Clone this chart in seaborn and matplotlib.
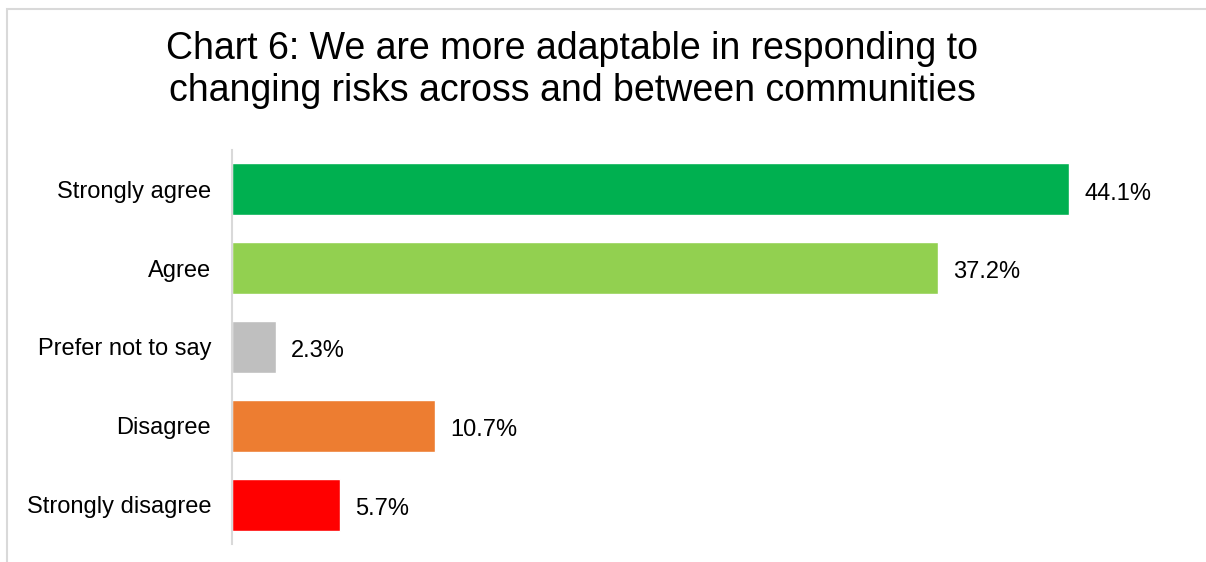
import matplotlib
matplotlib.use("Agg")
import matplotlib.pyplot as plt
import matplotlib.patches as mpatches
import seaborn as sns
import pandas as pd

categories = ["Strongly agree", "Agree", "Prefer not to say", "Disagree", "Strongly disagree"]
values = [44.1, 37.2, 2.3, 10.7, 5.7]
colors = ["#00B050", "#92D050", "#BFBFBF", "#ED7D31", "#FF0000"]
title = "Chart 6: We are more adaptable in responding to\nchanging risks across and between communities"

sns.set_style("white")
plt.rcParams["font.family"] = ["Liberation Sans", "DejaVu Sans"]

df = pd.DataFrame({"category": categories, "value": values})

fig = plt.figure(figsize=(12.06, 5.62), dpi=100)
ax = fig.add_axes([232 / 1206, 18 / 562, 949 / 1206, 394 / 562])

sns.barplot(data=df, x="value", y="category", hue="category", palette=colors,
            order=categories, hue_order=categories, orient="h", width=0.66,
            legend=False, saturation=1, ax=ax)

ax.set_xlim(0, 50)
ax.set_ylim(4.5, -0.5)
ax.set_xlabel("")
ax.set_ylabel("")
ax.set_xticks([])
ax.tick_params(axis="y", length=0, pad=15, labelsize=17, labelcolor="#000000")
for side in ("top", "right", "bottom"):
    ax.spines[side].set_visible(False)
ax.spines["left"].set_color("#D9D9D9")
ax.spines["left"].set_linewidth(1.5)

for container in ax.containers:
    anns = ax.bar_label(container, labels=[f"{v:.1f}%" for v in container.datavalues],
                        padding=11, fontsize=17, color="#000000")
    for ann in anns:
        ann.xyann = (11, -3)

fig.text(572 / 1206, 1 - 70 / 562, title, ha="center", va="center",
         fontsize=27, linespacing=1.24, color="#000000")

# outer chart frame (top and left edges visible)
frame = mpatches.Rectangle((7 / 1206, -0.1), 1.2, 1 - 9 / 562 + 0.1,
                           transform=fig.transFigure, fill=False,
                           edgecolor="#D9D9D9", linewidth=1.5)
fig.patches.append(frame)

fig.savefig("out.png", dpi=100)
